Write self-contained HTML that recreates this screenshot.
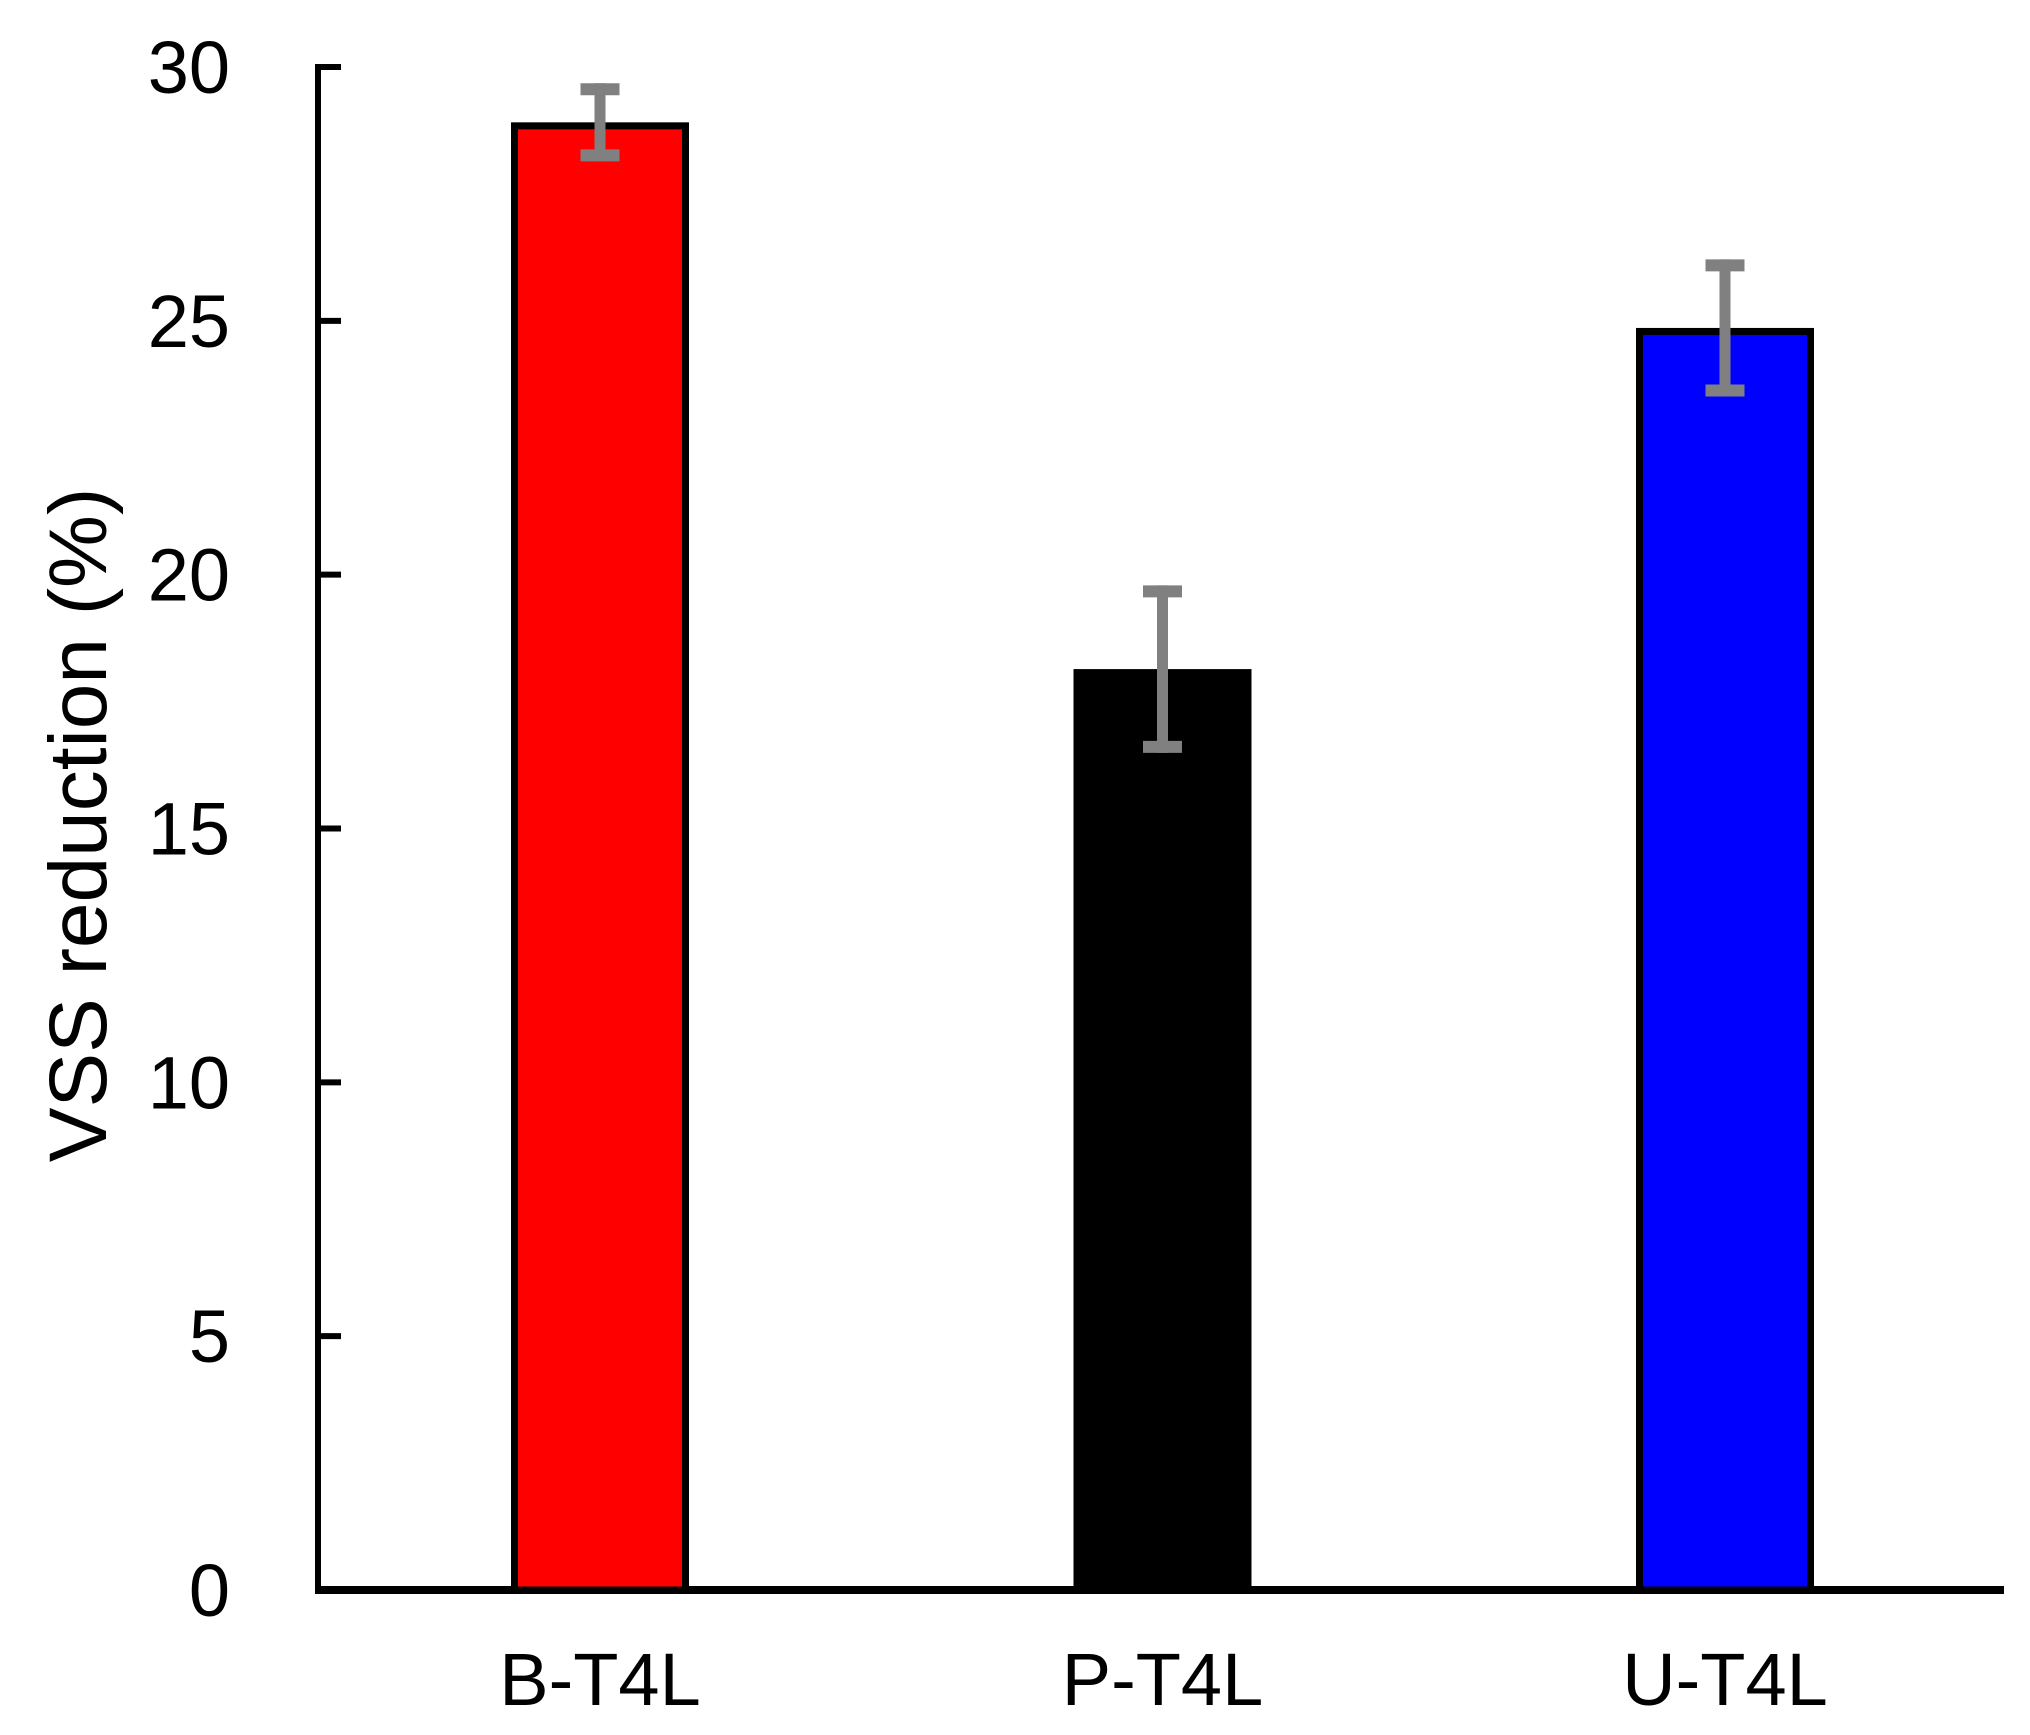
<!DOCTYPE html>
<html><head><meta charset="utf-8"><style>html,body{margin:0;padding:0;background:#fff}svg{display:block}</style></head>
<body>
<svg id="chart" width="2030" height="1735" viewBox="0 0 2030 1735" xmlns="http://www.w3.org/2000/svg" font-family="Liberation Sans, Arial, sans-serif">
<g id="axes"></g>
<g id="bars"></g>
<g id="errs"></g>
<g id="labels"></g>
<text x="0" y="0" transform="translate(106,825) rotate(-90)" text-anchor="middle" font-size="82">VSS reduction (%)</text>
</svg>
<script>
const categories = ["B-T4L", "P-T4L", "U-T4L"];
const values = [28.91, 18.14, 24.86];
const errors = [0.77, 1.65, 1.35];
const colors = ["#ff0000", "#000000", "#0000ff"];
const yTicks = [0, 5, 10, 15, 20, 25, 30];

const NS = "http://www.w3.org/2000/svg";
const x0 = 318, xEnd = 2004, yZero = 1590, yTop = 67, yMax = 30;
const firstCenter = 600, step = 562.5, barW = 178;
function y(v){ return yZero - (yZero - yTop) * v / yMax; }
function xc(i){ return firstCenter + step * i; }
function mk(tag, attrs, parent){ const e = document.createElementNS(NS, tag); for (const k in attrs) e.setAttribute(k, attrs[k]); parent.appendChild(e); return e; }

const axes = document.getElementById('axes');
const bars = document.getElementById('bars');
const errs = document.getElementById('errs');
const labels = document.getElementById('labels');

let yl = mk('line', {x1:x0, y1:yTop-3, x2:x0, y2:yZero+4, stroke:'#000', 'stroke-width':6}, axes);


let xl = mk('line', {x1:x0-3, y1:yZero, x2:xEnd, y2:yZero, stroke:'#000', 'stroke-width':8}, axes);



yTicks.forEach(t => {
  const ty = y(t);
  if (t > 0) {
    const tk = mk('line', {x1:x0, y1:ty, x2:x0+23, y2:ty, stroke:'#000', 'stroke-width':6}, axes);
    
    
  }
  const lb = mk('text', {x:230, y:ty+26, 'text-anchor':'end', 'font-size':74}, labels);
  lb.textContent = t;
  
  
});

categories.forEach((c, i) => {
  const cx = xc(i), top = y(values[i]);
  const r = mk('rect', {x:cx-barW/2+3.5, y:top+3.5, width:barW-7, height:yZero-top-3.5, fill:colors[i], stroke:'#000', 'stroke-width':7}, bars);
  
  
  const hi = y(values[i] + errors[i]), lo = y(values[i] - errors[i]);
  const g = mk('g', {stroke:'#808080'}, errs);
  
  
  mk('line', {x1:cx, y1:hi, x2:cx, y2:lo, 'stroke-width':11}, g);
  mk('line', {x1:cx-19.5, y1:hi+6, x2:cx+19.5, y2:hi+6, 'stroke-width':12}, g);
  mk('line', {x1:cx-19.5, y1:lo-6, x2:cx+19.5, y2:lo-6, 'stroke-width':12}, g);
  const t = mk('text', {x:cx, y:1705, 'text-anchor':'middle', 'font-size':74}, labels);
  t.textContent = c;
  
  
});
</script>
</body></html>
